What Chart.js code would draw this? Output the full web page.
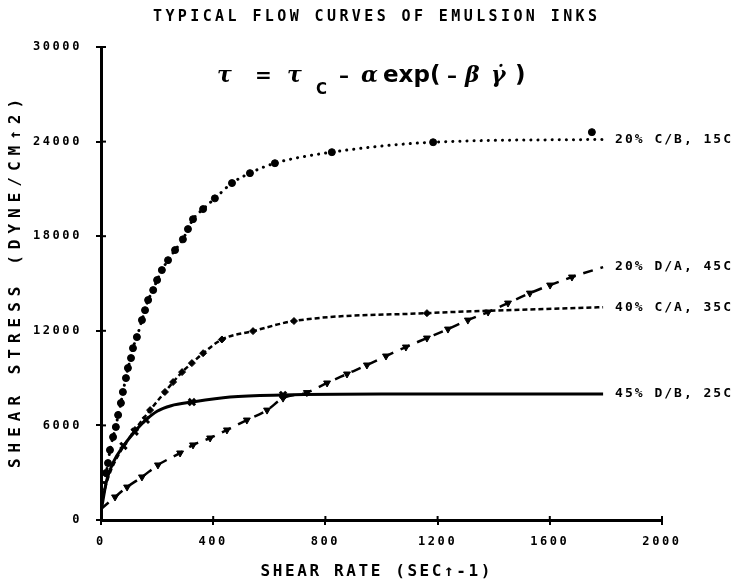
<!DOCTYPE html>
<html><head><meta charset="utf-8">
<script src="https://cdn.jsdelivr.net/npm/chart.js@4.4.1/dist/chart.umd.min.js"></script>
<style>html,body{margin:0;padding:0;background:#fff}#wrap{position:relative;width:739px;height:585px}</style>
</head><body><div id="wrap"><canvas id="c"></canvas></div>
<script>
// ---- texts ----
const TITLE = "TYPICAL FLOW CURVES OF EMULSION INKS";
const X_TITLE = "SHEAR RATE (SEC\u2191-1)";
const Y_TITLE = "SHEAR STRESS (DYNE/CM\u21912)";
const X_TICKS = [0, 400, 800, 1200, 1600, 2000];
const Y_TICKS = [0, 6000, 12000, 18000, 24000, 30000];
const SERIES_LABELS = ["20% C/B, 15C", "40% C/A, 35C", "45% D/B, 25C", "20% D/A, 45C"];

// ---- series 1: 20% C/B, 15C (dotted, circles) ----
const s1X = [0, 18, 25, 32, 43, 53, 61, 71, 78, 89, 96, 107, 114, 128, 146, 157, 168, 186, 200, 217, 239, 264, 292, 310, 328, 364, 406, 467, 531, 620, 823, 1184, 1790];
const s1Y = [1500, 2980, 3610, 4440, 5260, 5900, 6660, 7420, 8120, 9000, 9640, 10270, 10900, 11600, 12680, 13310, 13950, 14580, 15220, 15850, 16480, 17120, 17800, 18450, 19080, 19720, 20400, 21370, 22000, 22630, 23330, 23960, 24140];
const s1MX = [18, 25, 32, 43, 53, 61, 71, 78, 89, 96, 107, 114, 128, 146, 157, 168, 186, 200, 217, 239, 264, 292, 310, 328, 364, 406, 467, 531, 620, 823, 1184, 1750];
const s1MY = [2980, 3610, 4440, 5260, 5900, 6660, 7420, 8120, 9000, 9640, 10270, 10900, 11600, 12680, 13310, 13950, 14580, 15220, 15850, 16480, 17120, 17800, 18450, 19080, 19720, 20400, 21370, 22000, 22630, 23330, 23960, 24600];

// ---- series 2: 40% C/A, 35C (short dashes) ----
const s2X = [0, 25, 68, 121, 175, 228, 257, 289, 324, 364, 431, 542, 688, 1162, 1790];
const s2Y = [1000, 2660, 4310, 5710, 6970, 8120, 8750, 9380, 9950, 10580, 11450, 11980, 12620, 13120, 13500];
const s2MX = [121, 175, 228, 257, 289, 324, 364, 431, 542, 688, 1162];
const s2MY = [5710, 6970, 8120, 8750, 9380, 9950, 10580, 11450, 11980, 12620, 13120];

// ---- series 3: 45% D/B, 25C (solid) ----
const s3X = [0, 20, 45, 80, 120, 160, 200, 250, 324, 460, 649, 1000, 1790];
const s3Y = [500, 2500, 3700, 4700, 5600, 6350, 6900, 7250, 7480, 7800, 7930, 7990, 7990];
const s3MX = [80, 120, 160, 324, 649];
const s3MY = [4700, 5600, 6350, 7480, 7930];

// ---- series 4: 20% D/A, 45C (long dashes) ----
const s4X = [0, 50, 93, 146, 203, 282, 328, 389, 449, 520, 592, 649, 734, 806, 877, 948, 1016, 1087, 1162, 1237, 1308, 1380, 1451, 1529, 1601, 1679, 1790];
const s4Y = [700, 1460, 2090, 2730, 3490, 4250, 4760, 5200, 5710, 6340, 6970, 7730, 8080, 8690, 9260, 9830, 10400, 10970, 11540, 12110, 12680, 13190, 13760, 14390, 14900, 15410, 16040];
const s4MX = s4X.slice(1, -1);
const s4MY = s4Y.slice(1, -1);

const pts = (xs, ys) => xs.map((x, i) => ({x, y: ys[i]}));
const lineDS = (xs, ys, dash, w, cap) => ({
  data: pts(xs, ys), showLine: true, pointRadius: 0, borderColor: '#000', backgroundColor: '#000',
  borderWidth: w, borderDash: dash, borderCapStyle: cap || 'butt', cubicInterpolationMode: 'monotone', fill: false
});
const markDS = (xs, ys, style, r, bw, rot) => ({
  data: pts(xs, ys), showLine: false, pointStyle: style, pointRadius: r, borderWidth: bw || 1,
  pointRotation: rot || 0, borderColor: '#000', backgroundColor: '#000'
});

const lines = [
  {xs: s1X, ys: s1Y}, {xs: s2X, ys: s2Y}, {xs: s3X, ys: s3Y}, {xs: s4X, ys: s4Y}
];

function spaced(ctx, text, cx, cy, font, sp, rot) {
  ctx.save();
  ctx.font = font; ctx.letterSpacing = sp + 'px';
  ctx.textAlign = 'center'; ctx.textBaseline = 'middle'; ctx.fillStyle = '#000';
  ctx.translate(cx, cy); if (rot) ctx.rotate(rot);
  ctx.fillText(text, sp / 2, 0);
  ctx.restore();
}

const textPlugin = {
  id: 'texts',
  beforeDraw(chart) { chart.ctx.letterSpacing = '2.6px'; },
  afterDraw(chart) {
    const ctx = chart.ctx, xs = chart.scales.x, ys = chart.scales.y;
    ctx.save();
    ctx.letterSpacing = '0px';
    ctx.strokeStyle = '#000'; ctx.lineWidth = 2;
    X_TICKS.forEach(v => { const p = xs.getPixelForValue(v); ctx.beginPath(); ctx.moveTo(p, ys.bottom); ctx.lineTo(p, ys.bottom - 4); ctx.stroke(); });
    Y_TICKS.forEach(v => { const p = ys.getPixelForValue(v); ctx.beginPath(); ctx.moveTo(xs.left, p); ctx.lineTo(xs.left + 5, p); ctx.stroke(); });
    // title and axis titles
    spaced(ctx, TITLE, 375, 17, 'bold 15px "DejaVu Sans Mono"', 3.4);
    spaced(ctx, X_TITLE, (xs.left + xs.right) / 2 - 6, 572, 'bold 16px "DejaVu Sans Mono"', 2.6);
    spaced(ctx, Y_TITLE, 16, (ys.top + ys.bottom) / 2, 'bold 16px "DejaVu Sans Mono"', 6, -Math.PI / 2);
    // series labels at right end of each curve
    ctx.textAlign = 'left'; ctx.textBaseline = 'middle'; ctx.fillStyle = '#000';
    ctx.font = 'bold 13px "DejaVu Sans Mono"'; ctx.letterSpacing = '2px';
    lines.forEach((l, i) => {
      const n = l.xs.length - 1;
      ctx.fillText(SERIES_LABELS[i], xs.getPixelForValue(l.xs[n]) + 12, ys.getPixelForValue(l.ys[n]));
    });
    // formula
    ctx.letterSpacing = '0px'; ctx.textBaseline = 'alphabetic';
    const F = 'bold 23px "DejaVu Sans"', FI = 'italic bold 22px "DejaVu Serif"';
    const parts = [
      ['\u03C4', 217, 82, FI], ['=', 255, 82, 'bold 20px "DejaVu Sans"'], ['\u03C4', 287, 82, FI], ['C', 316, 94, 'bold 15px "DejaVu Sans"'],
      ['\u2013', 339, 82, 'bold 20px "DejaVu Sans"'], ['\u03B1', 361, 82, FI], ['exp(', 383, 82, F], ['\u2013', 447, 82, 'bold 20px "DejaVu Sans"'],
      ['\u03B2', 465, 82, FI], ['\u03B3\u0307', 491, 82, FI], [')', 515, 82, F]
    ];
    parts.forEach(p => { ctx.font = p[3]; ctx.fillText(p[0], p[1], p[2]); });
    ctx.restore();
  }
};

new Chart(document.getElementById('c'), {
  type: 'scatter',
  data: {
    datasets: [
      lineDS(s1X, s1Y, [0.1, 7], 3, 'round'),
      lineDS(s2X, s2Y, [5, 3], 2.5),
      lineDS(s3X, s3Y, [], 3),
      lineDS(s4X, s4Y, [10, 8], 2.5),
      markDS(s1MX, s1MY, 'circle', 3.5),
      markDS(s2MX, s2MY, 'rectRot', 3.5),
      markDS(s3MX, s3MY, 'crossRot', 4.5, 3),
      markDS(s4MX, s4MY, 'triangle', 4, 1, 180)
    ]
  },
  options: {
    responsive: true, maintainAspectRatio: false, animation: false, devicePixelRatio: 1,
    layout: {padding: {top: 47, right: 77, left: 0, bottom: 0}},
    plugins: {legend: {display: false}, tooltip: {enabled: false}, title: {display: false}},
    scales: {
      x: {
        type: 'linear', min: 0, max: 2000,
        afterBuildTicks: s => { s.ticks = X_TICKS.map(v => ({value: v})); },
        afterFit: s => { s.height = 65; },
        border: {display: true, color: '#000', width: 3},
        grid: {display: true, drawOnChartArea: false, drawTicks: true, tickLength: 5, color: '#000', lineWidth: 2},
        ticks: {color: '#000', padding: 10, maxRotation: 0, font: {family: 'DejaVu Sans Mono', weight: 'bold', size: 12}, callback: v => String(v)}
      },
      y: {
        type: 'linear', min: 0, max: 30000,
        afterBuildTicks: s => { s.ticks = Y_TICKS.map(v => ({value: v})); },
        afterFit: s => { s.width = 101; },
        border: {display: true, color: '#000', width: 3},
        grid: {display: true, drawOnChartArea: false, drawTicks: true, tickLength: 5, color: '#000', lineWidth: 2},
        ticks: {color: '#000', padding: 14, font: {family: 'DejaVu Sans Mono', weight: 'bold', size: 12}, callback: v => String(v)}
      }
    }
  },
  plugins: [textPlugin]
});
</script></body></html>
